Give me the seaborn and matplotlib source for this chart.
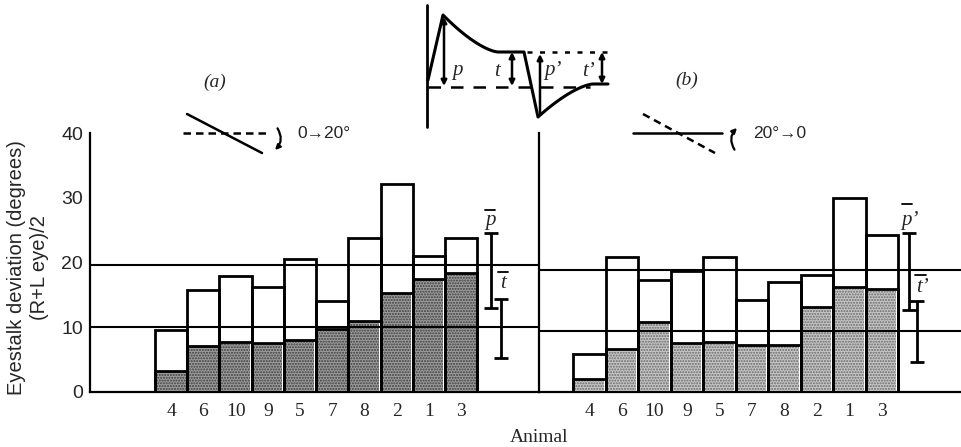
import numpy as np
import pandas as pd
import matplotlib
matplotlib.use("Agg")
import matplotlib.pyplot as plt
from matplotlib.patches import FancyArrowPatch
import seaborn as sns

# Animals in plotted order
animals = ["4", "6", "10", "9", "5", "7", "8", "2", "1", "3"]

# (a) 0 -> 20 deg: peak (p) and steady (t) deviation
peak_a = [9.6, 15.7, 17.9, 16.2, 20.5, 14.0, 23.8, 32.2, 21.0, 23.8]
tonic_a = [3.3, 7.1, 7.7, 7.5, 8.1, 9.7, 11.0, 15.3, 17.5, 18.4]

# (b) 20 -> 0 deg: peak (p') and steady (t') deviation
peak_b = [5.8, 20.8, 17.3, 18.7, 20.8, 14.2, 17.0, 18.0, 30.0, 24.3]
tonic_b = [2.0, 6.7, 10.8, 7.6, 7.7, 7.3, 7.2, 13.1, 16.2, 15.9]

# mean p and mean t levels, and their spread bars (low, high)
means_a = [19.6, 10.0]
means_b = [18.8, 9.4]
pbar_a = [12.9, 24.6]
tbar_a = [5.3, 14.3]
pbar_b = [12.7, 24.6]
tbar_b = [4.7, 14.0]

yticks = [0, 10, 20, 30, 40]

W, H = 962, 447
sns.set_style("white")
plt.rcParams["font.family"] = ["Liberation Sans", "DejaVu Sans"]
plt.rcParams["mathtext.fontset"] = "stix"

fig = plt.figure(figsize=(W / 100, H / 100), dpi=100)


def frac(x0, y_top, x1, y_bot):
    return [x0 / W, 1 - y_bot / H, (x1 - x0) / W, (y_bot - y_top) / H]


ax_a = fig.add_axes(frac(90, 133, 539, 392))
ax_b = fig.add_axes(frac(539, 133, 962, 392))

LW = 2.0


def draw_panel(ax, peak, tonic, means, pbar, tbar, fill, dots, xlim,
               bar_x, show_labels):
    df = pd.DataFrame({"animal": animals, "p": peak, "t": tonic})
    common = dict(data=df, x="animal", order=animals, errorbar=None,
                  saturation=1, ax=ax)
    sns.barplot(y="p", color="white", edgecolor="none", linewidth=0,
                width=1.0, zorder=2, **common)
    sns.barplot(y="t", color=fill, edgecolor=dots, linewidth=0,
                hatch="......", width=0.9, zorder=3, **common)
    sns.barplot(y="t", color="black", fill=False, linewidth=LW,
                width=1.0, zorder=4, **common)
    sns.barplot(y="p", color="black", fill=False, linewidth=LW,
                width=1.0, zorder=4, **common)

    for m in means:
        ax.axhline(m, color="black", lw=1.5, zorder=6)

    for xb, rng in zip(bar_x, [pbar, tbar]):
        mid = np.mean(rng)
        ax.errorbar([xb], [mid], yerr=[[mid - rng[0]], [rng[1] - mid]],
                    fmt="none", ecolor="black", elinewidth=LW,
                    capsize=5, capthick=LW, zorder=7)

    ax.set_xlim(*xlim)
    ax.set_ylim(0, 40)
    ax.set_xlabel("")
    ax.set_ylabel("")
    ax.set_yticks(yticks)
    ax.tick_params(axis="y", direction="in", length=7, width=1.5,
                   labelsize=14, pad=5, labelleft=show_labels)
    ax.tick_params(axis="x", length=0, pad=8)
    for lab in ax.get_xticklabels():
        lab.set_fontfamily("Liberation Serif")
        lab.set_fontsize(14)
    for s in ["top", "right"]:
        ax.spines[s].set_visible(False)
    for s in ["left", "bottom"]:
        ax.spines[s].set_linewidth(1.6)
        ax.spines[s].set_color("black")
    ax.patch.set_alpha(0)


draw_panel(ax_a, peak_a, tonic_a, means_a, pbar_a, tbar_a,
           "#9c9c9c", "#3c3c3c", (-2.52, 11.42), [9.93, 10.24], True)
draw_panel(ax_b, peak_b, tonic_b, means_b, pbar_b, tbar_b,
           "#c6c6c6", "#6a6a6a", (-1.55, 11.47), [9.84, 10.09], False)
ax_b.set_yticks([10, 20, 30, 40])

# axis titles
fig.text(28 / W, 1 - 268 / H, "Eyestalk deviation (degrees)\n(R+L eye)/2",
         rotation=90, ha="center", va="center", multialignment="center",
         fontsize=14.5, linespacing=1.25)
fig.text(539 / W, 1 - 437 / H, "Animal", ha="center", va="center",
         fontsize=14, family="Liberation Serif")

# overlay in pixel coordinates for the schematic trace, icons and labels
ov = fig.add_axes([0, 0, 1, 1], zorder=10)
ov.set_xlim(0, W)
ov.set_ylim(H, 0)
ov.axis("off")

serif_it = dict(family="Liberation Serif", style="italic")
ov.text(215, 82, "(a)", ha="center", va="center", fontsize=14, **serif_it)
ov.text(687, 80, "(b)", ha="center", va="center", fontsize=14, **serif_it)

# mean-value labels beside the spread bars
for x, y, s, bx0, bx1, by in [
        (490, 220, "p", 485, 495, 210),
        (503, 284, "t", 498, 508, 272),
        (910, 220, "p\u2019", 902, 912, 204),
        (922, 287, "t\u2019", 915, 926, 275)]:
    ov.text(x, y, s, ha="center", va="center", fontsize=15, **serif_it)
    ov.plot([bx0, bx1], [by, by], color="black", lw=1.3)

# schematic response trace
ov.plot([427, 427], [5, 127], color="black", lw=2)
rise_x = [428, 443]
rise_y = [80, 15]
sd = np.linspace(0, 1, 60)
xd = 443 + 55 * sd
yd = 52 - 37 * (1 - sd) ** 1.5
sr = np.linspace(0, 1, 60)
xr = 538 + 55 * sr
yr = 84 + 33 * (1 - sr) ** 1.5
tx = np.concatenate([rise_x, xd, [524, 538], xr, [608]])
ty = np.concatenate([rise_y, yd, [52, 117], yr, [84]])
ov.plot(tx, ty, color="black", lw=2.2, solid_joinstyle="round")
ov.plot([527, 608], [51.5, 51.5], color="black", lw=1.8, ls=(0, (2, 3)))
ov.plot([428, 590], [86.5, 86.5], color="black", lw=1.8, ls=(0, (5, 4)))


def arrow(x, y0, y1, style):
    ov.add_patch(FancyArrowPatch((x, y0), (x, y1), arrowstyle=style,
                                 mutation_scale=8, color="black", lw=1.8,
                                 shrinkA=0, shrinkB=0))


arrow(444, 86, 17, "<|-|>")
arrow(512, 86, 52, "<|-|>")
arrow(540, 113, 54, "-|>")
arrow(602, 84, 52, "<|-|>")
for x, s in [(457, "p"), (497, "t"), (553, "p\u2019"), (588, "t\u2019")]:
    ov.text(x, 71, s, ha="center", va="center", fontsize=15, **serif_it)

# stimulus icons
ov.plot([187, 262], [114, 153], color="black", lw=1.8)
ov.plot([183, 267], [133, 133], color="black", lw=1.8, ls=(0, (3, 2)))
ov.add_patch(FancyArrowPatch((276, 126), (273, 152),
                             connectionstyle="arc3,rad=-0.45",
                             arrowstyle="-|>", mutation_scale=7,
                             color="black", lw=1.6))
ov.text(297, 133, "0\u219220\u00b0", ha="left", va="center", fontsize=12.5)

ov.plot([633, 722], [133, 133], color="black", lw=1.8)
ov.plot([643, 715], [114, 153], color="black", lw=1.8, ls=(0, (3, 2)))
ov.add_patch(FancyArrowPatch((736, 152), (739, 126),
                             connectionstyle="arc3,rad=-0.45",
                             arrowstyle="-|>", mutation_scale=7,
                             color="black", lw=1.6))
ov.text(753, 133, "20\u00b0\u21920", ha="left", va="center", fontsize=12.5)

fig.savefig("out.png", dpi=100)
